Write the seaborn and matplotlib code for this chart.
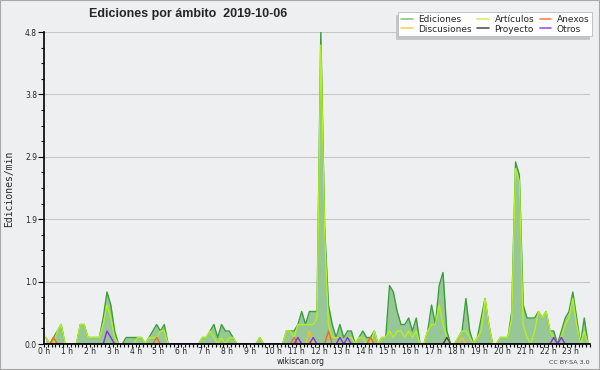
import numpy as np
import pandas as pd
import matplotlib
matplotlib.use("Agg")
import matplotlib.pyplot as plt
from matplotlib.lines import Line2D
from matplotlib.patches import Rectangle
from matplotlib.ticker import FixedLocator, FormatStrFormatter
import seaborn as sns

# ediciones/min en tramos de 10 minutos (6 por hora), 2019-10-06
ediciones = [
    .1, 0, .1, .2, .3, 0, 0, 0, 0, .3, .3, .1,
    .1, .1, .1, .4, .8, .6, .2, 0, 0, .1, .1, .1,
    .1, .1, 0, .1, .2, .3, .2, .3, 0, 0, 0, 0,
    0, 0, 0, 0, 0, .1, .1, .2, .3, .1, .3, .2,
    .2, .1, 0, 0, 0, 0, 0, 0, .1, 0, 0, 0,
    0, 0, 0, .2, .2, .2, .3, .5, .3, .5, .5, .5,
    4.8, 1.8, .6, .3, .1, .3, .1, .2, .2, 0, .1, .2,
    .1, .1, .2, 0, .1, .1, .9, .8, .5, .3, .3, .4,
    .2, .4, 0, 0, .2, .6, .3, .9, 1.1, .2, 0, 0,
    .1, .2, .7, .2, 0, .1, .4, .7, .3, 0, 0, .1,
    .1, .1, .5, 2.8, 2.6, .6, .4, .4, .4, .5, .4, .5,
    .2, .2, 0, .2, .4, .5, .8, .4, 0, .4, 0, 0,
]
articulos = [
    .1, 0, 0, .2, .3, 0, 0, 0, 0, .3, .3, .1,
    .1, .1, .1, .3, .6, .4, .1, 0, 0, 0, 0, 0,
    .1, .1, 0, .1, .1, .1, .2, .2, 0, 0, 0, 0,
    0, 0, 0, 0, 0, .1, .1, .2, .1, 0, .1, 0,
    .1, .1, 0, 0, 0, 0, 0, 0, .1, 0, 0, 0,
    0, 0, 0, .2, .2, .1, .3, .3, .3, .3, .3, .4,
    4.6, 1.7, .3, .1, .1, .1, 0, .1, .1, 0, .1, .1,
    0, 0, .2, 0, .1, .1, .2, .1, .2, .2, .1, .2,
    .1, .2, 0, 0, .2, .3, .3, .6, .3, .1, 0, 0,
    .1, .2, .2, .1, 0, .1, .2, .7, .3, 0, 0, .1,
    .1, .1, .4, 2.7, 2.5, .3, .1, 0, .2, .5, .4, .5,
    .2, .1, 0, .1, .3, .4, .7, .3, 0, .2, 0, 0,
]
# los demás ámbitos solo tienen unos pocos tramos con actividad (tramo: valor)
anexos = {2: .1, 29: .1, 65: .1, 74: .2, 85: .1}
discusiones = {69: .2, 109: .1}
proyecto = {105: .1}
otros = {16: .2, 17: .1, 66: .1, 70: .1, 77: .1, 79: .1, 133: .1, 135: .1}

horas = [f"{h} h" for h in range(24)]
ymax = 4.8

colores = {
    "Ediciones": "#3a9f3a",
    "Artículos": "#b4f01c",
    "Discusiones": "#f5c02a",
    "Anexos": "#ff6619",
    "Proyecto": "#444444",
    "Otros": "#8a2be2",
}
colores_leyenda = {
    "Ediciones": "#86c986",
    "Discusiones": "#f7d358",
    "Artículos": "#cdf06a",
    "Proyecto": "#555555",
    "Anexos": "#ff8a50",
    "Otros": "#9a55f0",
}

n = len(ediciones)
t = (np.arange(n) + 0.5) / 6


def completar(d):
    serie = np.zeros(n)
    for k, v in d.items():
        serie[k] = v
    return serie


df = pd.DataFrame({
    "hora": t,
    "Ediciones": ediciones,
    "Artículos": articulos,
    "Discusiones": completar(discusiones),
    "Anexos": completar(anexos),
    "Proyecto": completar(proyecto),
    "Otros": completar(otros),
})
largo = df.melt(id_vars="hora", var_name="ambito", value_name="valor")

sns.set_theme(style="white")
plt.rcParams['font.family'] = ['DejaVu Sans']

bg = "#eeeff0"
fig = plt.figure(figsize=(6, 3.7), dpi=100, facecolor=bg)
ax = fig.add_axes([44 / 600, 26 / 370, 546 / 600, 312 / 370])
ax.set_facecolor(bg)

ax.fill_between(df["hora"], df["Ediciones"], color="#97c797", lw=0, zorder=1.5)
sns.lineplot(data=largo, x="hora", y="valor", hue="ambito",
             hue_order=list(colores.keys()), palette=colores,
             linewidth=1.0, legend=False, estimator=None, ax=ax, zorder=2)

ax.set_xlim(0, 143 / 6)
ax.set_ylim(0, ymax)
ax.xaxis.set_major_locator(FixedLocator(range(24)))
ax.set_xticklabels(horas)
ax.xaxis.set_minor_locator(FixedLocator(np.arange(144) / 6))
ax.yaxis.set_major_locator(FixedLocator(np.linspace(0, ymax, 6)))
ax.yaxis.set_minor_locator(FixedLocator(np.linspace(0, ymax, 21)))
ax.yaxis.set_major_formatter(FormatStrFormatter("%.1f"))
ax.tick_params(axis="both", which="both", direction="out", color="black",
               width=0.8, labelsize=5.5, bottom=True, left=True)
ax.tick_params(axis="x", which="both", length=2.5, pad=0)
ax.tick_params(axis="y", which="major", length=4, pad=1)
ax.tick_params(axis="y", which="minor", length=2.5)
ax.set_xlabel("")
ax.set_ylabel("")
ax.grid(False)
ax.yaxis.grid(True, which="major", color="#c8c8c8", lw=0.8, zorder=0)
ax.set_axisbelow(True)
for s in ["top", "right"]:
    ax.spines[s].set_visible(False)
for s in ["left", "bottom"]:
    ax.spines[s].set_color("black")
    ax.spines[s].set_linewidth(1.2)
    ax.spines[s].set_zorder(3)

handles = [Line2D([], [], color=colores_leyenda[k], lw=1.2) for k in colores_leyenda]
ley = ax.legend(handles, list(colores_leyenda.keys()), ncol=3, loc="upper right",
                bbox_to_anchor=(592 / 600, 1 - 12 / 370), bbox_transform=fig.transFigure,
                fontsize=6.5, frameon=True, fancybox=False, framealpha=1,
                facecolor="white", edgecolor="#bbbbbb", handlelength=1.3,
                handletextpad=0.6, columnspacing=0.6, labelspacing=0.1,
                borderpad=0.3, borderaxespad=0,
                shadow={"ox": -2, "oy": -2, "color": "#c4c4c4", "alpha": 1})
ley.get_frame().set_linewidth(0.6)

fig.text(188 / 600, 1 - 14 / 370, "Ediciones por ámbito  2019-10-06",
         fontsize=9, fontweight="bold", family="Liberation Sans",
         ha="center", va="center")
fig.text(9 / 600, 1 - 189 / 370, "Ediciones/min", rotation=90,
         family="DejaVu Sans Mono", fontsize=7, ha="center", va="center")
fig.text(301 / 600, 1 - 362 / 370, "wikiscan.org", fontsize=5.5,
         ha="center", va="center", color="#222222")
fig.text(590 / 600, 1 - 362 / 370, "CC BY-SA 3.0", fontsize=4.6,
         ha="right", va="center", color="#444444")

fig.add_artist(Rectangle((0, 0), 1, 1, transform=fig.transFigure, fill=False,
                         edgecolor="#a8a8a8", lw=1.5))

fig.savefig("out.png", dpi=100, facecolor=fig.get_facecolor())
plt.close(fig)
